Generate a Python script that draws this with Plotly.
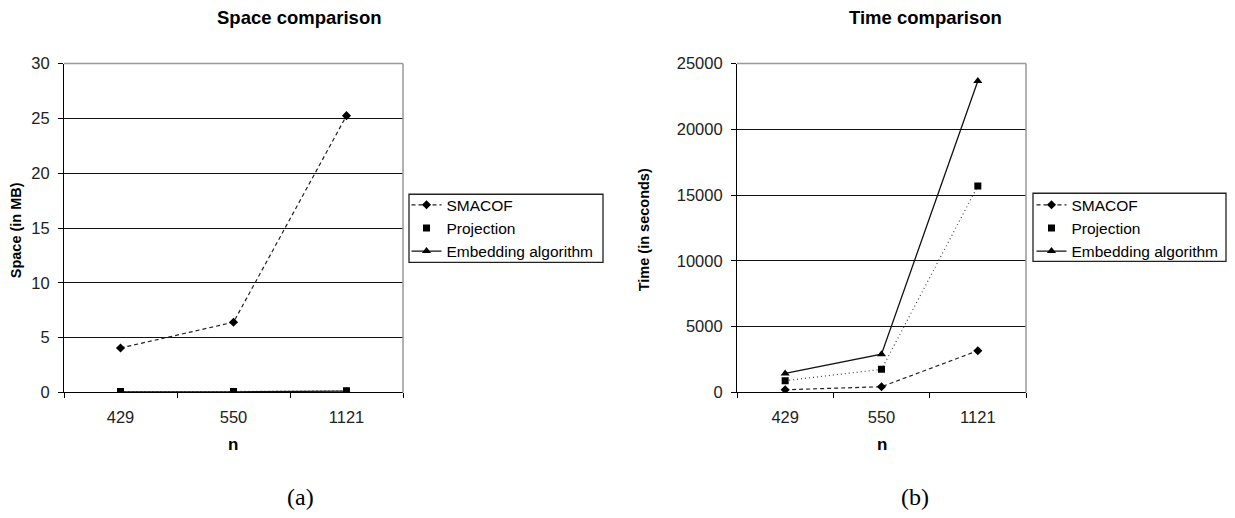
import plotly.graph_objects as go

n_labels = ["429", "550", "1121"]

space_smacof = [4.05, 6.4, 25.25]
space_projection = [0.08, 0.08, 0.15]
space_embedding = [0.05, 0.05, 0.12]

time_smacof = [200, 430, 3170]
time_projection = [890, 1750, 15700]
time_embedding = [1440, 2900, 23680]

FONT = "Liberation Sans, Arial, sans-serif"
fig = go.Figure()

def add_series(xa, ya, legend, sm, pr, em):
    fig.add_trace(go.Scatter(x=n_labels, y=sm, name="SMACOF", mode="lines+markers",
                             line=dict(color="#222", width=1.2, dash="4px,3px"),
                             marker=dict(symbol="diamond", size=7, color="black"),
                             xaxis=xa, yaxis=ya, legend=legend))
    fig.add_trace(go.Scatter(x=n_labels, y=pr, name="Projection", mode="lines",
                             line=dict(color="#444", width=1.2, dash="1px,3px"),
                             showlegend=False, xaxis=xa, yaxis=ya, legend=legend))
    fig.add_trace(go.Scatter(x=n_labels, y=pr, name="Projection", mode="markers",
                             marker=dict(symbol="square", size=7, color="black"),
                             xaxis=xa, yaxis=ya, legend=legend))
    fig.add_trace(go.Scatter(x=n_labels, y=em, name="Embedding algorithm", mode="lines+markers",
                             line=dict(color="#111", width=1.3),
                             marker=dict(symbol="triangle-up", size=8, color="black"),
                             xaxis=xa, yaxis=ya, legend=legend))

add_series("x", "y", "legend", space_smacof, space_projection, space_embedding)
add_series("x2", "y2", "legend2", time_smacof, time_projection, time_embedding)

XOFF = 8
YOFF = 16.5
S = 0.9646
W, H = 1235 - 2 * XOFF, 520
def px(x):
    return (x - XOFF) / W
def py(y):
    return 1 - (y / S - YOFF) / H

xdom1 = [px(64), px(403)]
xdom2 = [px(737), px(1026)]
ydom = [py(391), py(62.5)]

xcommon = dict(type="category", tickson="boundaries", ticks="outside", ticklen=5,
               tickcolor="black", showline=True, linecolor="black", linewidth=1.2,
               showgrid=False, tickfont=dict(family=FONT, size=16.5, color="#222"),
               ticklabelstandoff=10, fixedrange=True, zeroline=False, range=[-0.5, 2.5])
ycommon = dict(ticks="outside", ticklen=5, tickcolor="black", showline=True,
               linecolor="black", linewidth=1.2, showgrid=True, gridcolor="#111",
               gridwidth=1.2, tickfont=dict(family=FONT, size=16.5, color="#222"),
               ticklabelstandoff=5, zeroline=False, tickformat="d")

legcommon = dict(xanchor="left", yanchor="top", borderwidth=0,
                 bgcolor="rgba(0,0,0,0)", font=dict(family=FONT, size=15.5, color="black"),
                 itemwidth=30, tracegroupgap=0)

fig.update_layout(
    width=W, height=H, margin=dict(l=0, r=0, t=0, b=0),
    paper_bgcolor="white", plot_bgcolor="white",
    xaxis=dict(domain=xdom1, anchor="y", **xcommon),
    yaxis=dict(domain=ydom, anchor="x", range=[0, 30], dtick=5, **ycommon),
    xaxis2=dict(domain=xdom2, anchor="y2", **xcommon),
    yaxis2=dict(domain=ydom, anchor="x2", range=[0, 25000], dtick=5000, **ycommon),
    legend=dict(x=px(406.5), y=py(187), **legcommon),
    legend2=dict(x=px(1031.5), y=py(187), **legcommon),
    font=dict(family=FONT),
)

# legend boxes
for (x0, x1, y0, y1) in ((409, 603, 193, 261), (1033, 1226, 192, 260)):
    fig.add_shape(type="rect", xref="paper", yref="paper", x0=px(x0), x1=px(x1),
                  y0=py(y1), y1=py(y0), line=dict(color="#222", width=1.3),
                  fillcolor="white", layer="below")

# gray top/right frame of plot areas
for xd in (xdom1, xdom2):
    fig.add_shape(type="line", xref="paper", yref="paper", x0=xd[0], x1=xd[1],
                  y0=ydom[1], y1=ydom[1], line=dict(color="#999", width=1.5), layer="above")
    fig.add_shape(type="line", xref="paper", yref="paper", x0=xd[1], x1=xd[1],
                  y0=ydom[0], y1=ydom[1], line=dict(color="#999", width=1.5), layer="above")

def ann(text, x, y, size=14, bold=True, angle=0, family=FONT):
    fig.add_annotation(text=("<b>%s</b>" % text) if bold else text, x=px(x), y=py(y),
                       xref="paper", yref="paper", showarrow=False, textangle=angle,
                       xanchor="center", yanchor="middle",
                       font=dict(family=family, size=size, color="black"))

ann("Space comparison", 299, 16.5, size=18.5)
ann("Time comparison", 925, 16.5, size=18.5)
ann("Space (in MB)", 16, 229, size=14.5, angle=-90)
ann("Time (in seconds)", 644, 229, size=14.5, angle=-90)
ann("n", 233, 443, size=17)
ann("n", 882, 443, size=17)
ann("(a)", 300, 496, size=24, bold=False, family="Liberation Serif, DejaVu Serif, serif")
ann("(b)", 915, 496, size=24, bold=False, family="Liberation Serif, DejaVu Serif, serif")

fig.write_html("out.html")
